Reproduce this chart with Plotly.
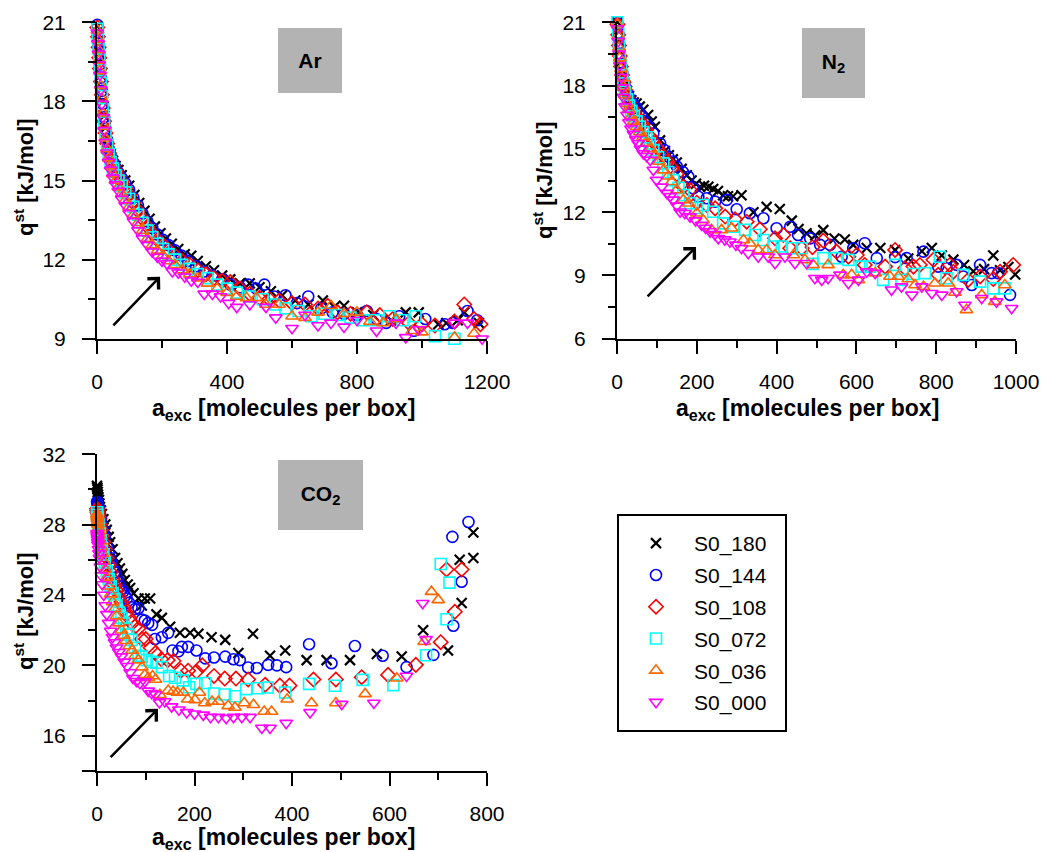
import plotly.graph_objects as go

# ---------------- series definitions ----------------
series_names = ["S0_180", "S0_144", "S0_108", "S0_072", "S0_036", "S0_000"]
series_colors = ["#000000", "#0000ff", "#ff0000", "#00ffff", "#ff6600", "#ff00ff"]
series_symbols = ["x-thin", "circle-open", "diamond-open", "square-open", "triangle-up-open", "triangle-down-open"]

# ---------------- Ar panel ----------------
ar_x_180 = [1,3,5,7,9,12,15,18,22,26,31,36,42,49,57,66,76,87,99,115,130,146,162,178,195,212,230,250,270,290,310,335,360,385,410,440,470,500,535,570,610,650,695,730,760,800,850,905,950,990,1050,1075,1110,1130,1175]
ar_y_180 = [20.85,20.55,20.2,19.85,19.5,19.0,18.5,18.0,17.45,17.0,16.6,16.3,16.0,15.75,15.55,15.4,15.2,15.0,14.8,14.45,14.15,13.85,13.55,13.25,13.0,12.8,12.6,12.4,12.2,12.15,11.95,11.75,11.6,11.4,11.25,11.1,11.1,10.95,10.8,10.65,10.45,10.3,10.45,10.2,10.25,10.0,9.9,9.7,10.0,10.0,9.55,9.6,9.7,10.0,9.6]

ar_x_144 = [1,3,5,7,9,12,15,18,22,26,31,36,42,49,57,66,76,87,99,112,126,140,155,170,186,203,220,240,260,280,305,330,355,385,410,440,465,490,515,545,580,615,650,690,725,760,800,830,860,890,930,975,1010,1070,1095,1140,1170]
ar_y_144 = [20.9,20.6,20.2,19.8,19.4,18.9,18.4,17.9,17.4,16.95,16.55,16.2,15.95,15.7,15.5,15.3,15.1,14.9,14.65,14.35,14.05,13.75,13.45,13.2,12.95,12.75,12.55,12.35,12.15,11.95,11.75,11.55,11.4,11.25,11.05,10.95,11.05,10.9,11.05,10.6,10.65,10.35,10.6,10.15,10.0,9.95,9.9,10.05,9.75,9.6,9.85,9.3,9.75,9.55,9.6,10.05,9.7]

ar_x_108 = [1,3,5,7,9,12,15,18,22,26,31,36,42,49,57,66,76,87,99,112,126,140,155,170,186,203,220,240,262,285,310,335,360,385,410,440,470,500,530,560,600,640,680,710,740,780,830,870,910,960,1000,1040,1100,1130,1160,1180]
ar_y_108 = [20.8,20.45,20.05,19.65,19.25,18.75,18.25,17.75,17.25,16.8,16.4,16.05,15.8,15.55,15.35,15.15,14.95,14.7,14.45,14.15,13.85,13.55,13.25,13.0,12.75,12.55,12.35,12.15,11.95,11.8,11.6,11.45,11.3,11.2,11.15,10.9,10.7,10.55,10.5,10.45,10.35,10.3,10.15,10.25,10.0,9.95,10.0,9.9,9.75,9.6,9.55,9.5,9.65,10.3,9.75,9.55]

ar_x_072 = [1,3,5,7,9,12,15,18,22,26,31,36,42,49,57,66,76,87,99,112,126,140,155,170,186,203,220,240,262,285,310,340,370,400,430,470,510,550,580,620,660,700,740,780,820,860,900,940,980,1040,1100,1180]
ar_y_072 = [20.75,20.4,20.0,19.6,19.2,18.7,18.2,17.7,17.2,16.75,16.35,16.0,15.7,15.45,15.2,15.0,14.8,14.55,14.3,14.0,13.7,13.4,13.1,12.85,12.6,12.4,12.2,12.0,11.8,11.65,11.45,11.3,11.05,10.9,10.75,10.6,10.5,10.3,10.15,10.05,9.85,9.95,9.9,9.8,9.7,9.7,9.85,9.7,9.85,9.1,9.0,8.8]

ar_x_036 = [1,3,5,7,9,12,15,18,22,26,31,36,42,49,57,66,76,87,99,112,126,140,155,170,186,203,220,240,262,285,310,340,370,400,430,460,490,520,560,600,640,680,720,760,800,840,880,920,970,1000,1060,1100,1160,1195]
ar_y_036 = [20.7,20.35,19.95,19.55,19.15,18.6,18.1,17.55,17.05,16.6,16.2,15.85,15.55,15.25,15.0,14.75,14.5,14.25,14.0,13.7,13.4,13.1,12.8,12.55,12.35,12.15,11.95,11.8,11.6,11.45,11.3,11.1,10.9,10.75,10.6,10.55,10.55,10.3,10.3,9.85,9.8,10.0,10.25,9.95,10.0,9.65,9.6,9.75,9.3,9.25,8.9,9.05,9.2,8.85]

ar_x_000 = [1,3,5,7,9,12,15,18,22,26,31,36,42,49,57,66,76,87,99,112,126,140,155,170,186,200,215,232,250,270,290,310,330,355,380,405,430,470,520,550,600,640,680,720,760,800,860,920,950,990,1100,1140,1185]
ar_y_000 = [20.6,20.2,19.8,19.4,19.0,18.45,17.9,17.4,16.9,16.45,16.05,15.7,15.4,15.1,14.85,14.6,14.3,14.05,13.75,13.45,13.1,12.8,12.55,12.3,12.1,11.95,11.85,11.55,11.5,11.35,11.2,11.15,10.7,10.7,10.6,10.35,10.2,10.3,10.2,9.8,9.4,9.9,9.5,9.6,9.45,9.7,9.3,9.6,9.05,9.35,9.6,9.6,9.0]

# ---------------- N2 panel ----------------
n2_x_180 = [1,3,5,7,10,13,16,20,25,30,36,42,49,57,66,78,87,95,108,120,130,140,150,162,175,187,198,208,218,229,241,253,266,278,291,312,342,375,408,438,455,475,497,517,545,571,592,626,660,697,730,764,789,814,843,870,893,920,943,960,981,998]
n2_y_180 = [21.0,20.6,20.1,19.6,19.1,18.7,18.35,18.05,17.75,17.5,17.3,17.2,17.15,17.0,16.85,16.6,16.3,16.05,15.4,14.9,14.7,14.5,14.35,14.05,13.75,13.5,13.35,13.2,13.25,13.2,13.1,13.0,12.8,12.75,12.75,12.8,12.0,12.25,12.15,11.6,11.2,11.0,10.9,11.15,10.75,10.7,10.45,10.3,10.3,10.2,9.8,10.15,10.3,9.95,9.75,9.5,9.2,9.3,9.95,9.25,9.4,9.05]

n2_x_144 = [1,3,5,7,10,13,16,20,25,30,36,42,49,55,62,70,79,91,108,118,129,140,150,165,179,191,204,225,246,275,300,333,367,400,434,454,484,509,534,563,592,621,651,697,726,768,805,826,851,868,889,910,939,955,985]
n2_y_144 = [20.95,20.5,20.0,19.5,19.0,18.6,18.25,17.95,17.65,17.45,17.25,17.1,16.95,16.75,16.52,16.3,16.05,15.73,15.26,14.95,14.63,14.4,14.16,13.9,13.68,13.13,12.73,12.66,12.5,12.58,12.14,11.95,11.71,11.24,11.31,10.92,10.76,10.45,10.45,9.89,10.29,10.53,9.82,9.87,9.82,10.13,9.42,9.34,9.5,8.95,8.55,9.5,9.11,9.11,8.08]

n2_x_108 = [1,3,5,7,10,13,16,20,25,30,36,42,49,56,64,72,82,92,103,114,126,138,150,166,183,200,225,246,271,296,325,358,396,417,434,463,490,517,550,580,601,621,672,697,722,743,759,793,805,834,843,880,910,943,960,993]
n2_y_108 = [20.9,20.4,19.9,19.4,18.9,18.5,18.15,17.8,17.45,17.2,16.95,16.75,16.55,16.35,16.15,15.9,15.6,15.3,15.0,14.7,14.4,14.1,13.8,13.2,13.05,12.45,12.34,12.18,11.79,11.66,11.55,11.19,10.76,10.92,10.29,10.29,10.34,10.65,10.13,9.89,9.97,9.5,9.42,10.21,9.34,9.42,9.5,9.74,9.03,9.5,9.18,8.79,8.95,8.83,9.18,9.5]

n2_x_072 = [1,3,5,7,10,13,16,20,25,30,36,42,49,57,65,74,82,91,103,116,128,141,154,166,183,200,216,241,266,291,321,346,367,392,413,438,463,490,517,550,580,613,634,667,697,713,743,772,809,826,868,910,943,972]
n2_y_072 = [21.0,20.5,19.95,19.45,18.95,18.5,18.1,17.7,17.35,17.05,16.8,16.55,16.3,16.05,15.8,15.55,15.25,14.94,14.6,14.31,13.9,13.52,13.15,12.81,12.42,12.2,12.34,12.02,11.47,11.31,11.16,10.92,10.68,10.37,10.37,10.29,10.29,9.55,9.82,9.82,9.74,9.42,9.42,8.79,9.5,8.79,9.07,9.11,9.89,8.87,9.03,8.71,8.39,8.39]

n2_x_036 = [1,3,5,7,10,13,16,20,25,30,36,42,49,57,65,74,84,95,105,116,128,137,150,166,179,200,216,237,262,287,317,333,354,375,396,442,471,492,529,567,588,605,647,684,705,730,747,768,797,830,847,876,914,947,972]
n2_y_036 = [20.9,20.35,19.8,19.3,18.8,18.35,17.95,17.55,17.15,16.85,16.55,16.3,16.05,15.8,15.55,15.3,15.0,14.7,14.4,13.99,13.7,13.44,13.05,12.58,12.42,11.95,11.63,11.16,11.16,11.24,10.68,10.53,10.21,10.21,9.97,9.97,9.74,9.5,9.5,9.03,9.03,8.79,9.11,8.95,8.95,8.83,8.55,8.47,8.63,8.63,8.19,7.37,8.08,7.76,8.55]

n2_x_000 = [1,3,5,7,10,13,16,20,25,30,35,41,47,53,59,66,74,83,91,99,112,125,133,141,150,158,170,183,197,212,222,233,245,254,270,283,298,312,329,354,379,396,421,446,475,496,513,529,559,580,605,626,647,688,713,739,764,789,814,851,872,914,951,989]
n2_y_000 = [20.7,20.1,19.5,18.95,18.4,17.9,17.45,17.0,16.6,16.25,15.95,15.7,15.45,15.25,15.0,14.78,14.65,14.47,14.0,13.52,13.2,12.9,12.75,12.58,12.3,12.02,11.95,11.79,11.6,11.39,11.25,11.08,10.95,10.76,10.7,10.6,10.45,10.29,10.05,9.89,9.89,9.58,9.89,9.58,9.58,8.87,8.79,8.87,9.03,8.63,8.79,9.18,9.11,8.32,8.47,8.08,8.47,8.16,8.08,8.24,7.6,7.92,7.76,7.45]

# ---------------- CO2 panel ----------------
co2_x_180 = [0,0.5,1,1.5,2,3,4,5,6,8,10,13,17,20,24,27,32,37,42,47,52,57,63,68,75,85,92,98,109,122,133,150,170,191,208,235,263,290,320,355,386,430,471,519,574,625,669,720,748,744,772,772]
co2_y_180 = [30.2,30.1,30.0,29.85,29.7,29.55,29.4,29.2,29.0,28.8,28.6,28.3,28.0,27.7,27.3,27.0,26.6,26.1,25.8,25.5,25.2,24.85,24.6,24.4,24.1,23.8,23.4,23.8,23.8,22.9,22.7,22.2,21.85,21.85,21.8,21.6,21.45,20.7,21.8,20.55,20.85,20.3,20.3,20.3,20.65,20.5,22.0,20.85,23.55,26.0,26.1,27.55]

co2_x_144 = [0,0.5,1,2,3,4,6,8,10,13,16,20,24,27,30,33,36,40,44,47,50,54,58,61,66,71,78,85,92,98,105,113,119,133,146,155,167,174,187,204,222,240,263,280,293,310,328,351,369,388,435,481,529,586,635,690,731,748,729,762]
co2_y_144 = [29.3,29.25,29.2,29.1,29.0,28.85,28.6,28.3,28.0,27.7,27.3,26.8,26.4,26.1,25.8,25.5,25.3,25.0,24.7,24.5,24.3,24.2,23.95,23.8,23.55,23.3,23.2,23.25,22.6,22.55,22.4,22.3,21.5,21.6,21.85,20.85,20.8,21.05,21.05,20.85,20.4,20.45,20.5,20.35,20.3,19.88,19.85,20.03,20.0,19.9,21.2,20.12,21.1,20.55,19.9,20.6,22.25,24.75,27.3,28.15]

co2_x_108 = [0,0.5,1,2,3,4,6,8,10,13,16,20,24,28,32,36,40,45,50,55,60,66,72,78,85,92,100,110,120,132,145,157,172,187,204,216,240,262,285,310,345,375,395,444,490,543,597,654,705,717,734,748]
co2_y_108 = [28.9,28.8,28.7,28.6,28.45,28.3,28.0,27.7,27.35,27.0,26.6,26.1,25.7,25.3,24.9,24.55,24.25,23.9,23.6,23.3,23.0,22.7,22.4,22.2,22.1,21.5,21.5,21.0,20.7,20.35,20.3,20.25,19.7,19.7,19.65,20.0,19.4,19.25,19.25,19.2,18.9,18.85,18.85,19.2,19.2,19.33,19.46,20.03,21.32,25.45,23.05,25.45]

co2_x_072 = [0,0.5,1,2,3,4,6,8,10,13,16,20,24,28,32,36,40,45,50,55,60,64,71,78,85,92,102,112,122,133,148,160,176,189,204,222,240,262,283,306,330,350,386,435,488,545,608,675,705,717,723]
co2_y_072 = [28.7,28.55,28.4,28.2,28.0,27.8,27.5,27.1,26.7,26.3,25.85,25.35,24.9,24.5,24.1,23.75,23.4,23.0,22.7,22.4,22.1,21.75,21.45,21.0,20.55,20.5,20.3,20.2,20.15,19.9,19.4,19.3,19.15,18.76,18.95,19.0,18.4,18.35,18.25,18.65,18.7,18.74,18.46,18.95,18.84,19.18,18.88,20.58,25.76,22.62,24.7]

co2_x_036 = [0,0.3,0.6,1,1.5,2,3,4,5,7,9,11,14,17,20,24,28,32,36,40,45,50,55,60,66,72,78,85,92,98,105,114,120,129,146,156,165,177,186,201,210,221,236,249,269,283,302,321,343,358,390,440,490,550,615,671,686,700]
co2_y_036 = [28.6,28.5,28.4,28.3,28.15,28.0,27.8,27.6,27.4,27.05,26.7,26.35,25.9,25.45,25.0,24.5,24.05,23.6,23.2,22.8,22.4,22.0,21.7,21.4,21.1,20.85,20.55,20.3,19.9,19.46,19.3,19.4,19.2,18.33,18.57,18.52,18.46,18.46,18.08,18.04,18.46,17.86,17.95,17.95,17.7,17.61,17.86,17.76,17.38,17.38,18.08,17.86,17.86,18.38,19.27,21.35,24.19,23.72]

co2_x_000 = [0,0.3,0.6,1,1.5,2,3,4,5,7,9,11,14,17,20,24,28,32,36,40,45,50,56,62,68,74,81,88,98,105,112,120,128,139,153,168,184,200,218,233,249,265,280,297,314,338,355,388,437,502,568,635,668,675]
co2_y_000 = [27.5,27.4,27.3,27.15,27.0,26.85,26.6,26.35,26.1,25.6,25.1,24.6,24.0,23.4,22.9,22.4,21.95,21.6,21.3,21.0,20.75,20.5,20.2,19.95,19.6,19.27,19.1,18.99,19.08,18.55,18.42,18.35,17.89,17.95,17.66,17.48,17.33,17.25,17.19,17.06,17.06,17.0,17.06,17.06,17.06,16.44,16.44,16.72,17.33,17.8,17.86,19.4,23.53,21.48]

ar_data = [(ar_x_180, ar_y_180), (ar_x_144, ar_y_144), (ar_x_108, ar_y_108),
           (ar_x_072, ar_y_072), (ar_x_036, ar_y_036), (ar_x_000, ar_y_000)]
n2_data = [(n2_x_180, n2_y_180), (n2_x_144, n2_y_144), (n2_x_108, n2_y_108),
           (n2_x_072, n2_y_072), (n2_x_036, n2_y_036), (n2_x_000, n2_y_000)]
co2_data = [(co2_x_180, co2_y_180), (co2_x_144, co2_y_144), (co2_x_108, co2_y_108),
            (co2_x_072, co2_y_072), (co2_x_036, co2_y_036), (co2_x_000, co2_y_000)]

W, H = 1048, 852
FONT = "Liberation Sans, Arial, sans-serif"


def dx(a, b):
    return [a / W, b / W]


def dy(top, bottom):
    return [1 - bottom / H, 1 - top / H]


fig = go.Figure()

panels = [("x", "y", ar_data, True), ("x2", "y2", n2_data, False), ("x3", "y3", co2_data, False)]
for xa, ya, data, show in panels:
    for i, (xs, ys) in enumerate(data):
        sym = series_symbols[i]
        col = series_colors[i]
        if sym == "x-thin":
            marker = dict(symbol=sym, size=10, color=col, line=dict(color=col, width=2.2))
        else:
            marker = dict(symbol=sym, size=11, color=col, line=dict(color=col, width=1.6))
        fig.add_trace(go.Scatter(
            x=xs, y=ys, mode="markers", name=series_names[i],
            legendgroup=series_names[i], showlegend=show,
            marker=marker, xaxis=xa, yaxis=ya, cliponaxis=False,
        ))

tickfont = dict(family=FONT, size=21, color="black")
common = dict(showline=True, linecolor="black", linewidth=2, ticks="outside", ticklen=13,
              tickwidth=2, tickcolor="black", showgrid=False, zeroline=False,
              tickfont=tickfont, fixedrange=True, automargin=False)


def minor(dt, t0=0):
    return dict(dtick=dt, tick0=t0, ticks="outside", ticklen=7, tickwidth=2,
                tickcolor="black", showgrid=False)


fig.update_layout(
    width=W, height=H,
    autosize=False,
    margin=dict(l=0, r=0, t=0, b=0, pad=0, autoexpand=False),
    paper_bgcolor="white", plot_bgcolor="white",
    font=dict(family=FONT, color="black"),
    xaxis=dict(domain=dx(97, 487), range=[0, 1200], anchor="y", dtick=400, tick0=0,
               minor=minor(200), ticklabelstandoff=10, **common),
    yaxis=dict(domain=dy(22, 339), range=[8.99, 21.01], anchor="x", dtick=3, tick0=0,
               minor=minor(1.5), ticklabelstandoff=12, **common),
    xaxis2=dict(domain=dx(617, 1016), range=[0, 1000], anchor="y2", dtick=200, tick0=0,
                minor=minor(100), ticklabelstandoff=10, **common),
    yaxis2=dict(domain=dy(22, 339), range=[5.99, 21.01], anchor="x2", dtick=3, tick0=0,
                minor=minor(1.5), ticklabelstandoff=12, **common),
    xaxis3=dict(domain=dx(97, 487), range=[0, 800], anchor="y3", dtick=200, tick0=0,
                minor=minor(100), ticklabelstandoff=10, **common),
    yaxis3=dict(domain=dy(454, 771), range=[14, 32.01], anchor="x3", tickmode="array",
                tickvals=[14, 16, 20, 24, 28, 32], ticktext=["", "16", "20", "24", "28", "32"],
                minor=minor(2, 14), ticklabelstandoff=12, **common),
    legend=dict(x=618 / W, y=1 - 523 / H, xanchor="left", yanchor="top",
                borderwidth=0, bgcolor="rgba(0,0,0,0)",
                font=dict(family=FONT, size=21, color="black"),
                traceorder="grouped", tracegroupgap=1.5, itemwidth=66),
)

# legend frame
fig.add_shape(type="rect", xref="paper", yref="paper",
              x0=618 / W, x1=786 / W, y0=1 - 731 / H, y1=1 - 515 / H,
              line=dict(color="black", width=2), fillcolor="rgba(0,0,0,0)", layer="below")

annotations = []
xtitle_font = dict(family=FONT, size=23, color="black")
ytitle_font = dict(family=FONT, size=22, color="black")
xtitle = "<b>a<sub>exc</sub> [molecules per box]</b>"
ytitle = "<b>q<sup>st</sup> [kJ/mol]</b>"
for cx, cy in [(283, 410), (807, 410), (283, 838)]:
    annotations.append(dict(text=xtitle, x=cx / W, y=1 - cy / H, xref="paper", yref="paper",
                            xanchor="center", yanchor="middle", showarrow=False, font=xtitle_font))
for cx, cy in [(24, 177), (543, 180), (24, 611)]:
    annotations.append(dict(text=ytitle, x=cx / W, y=1 - cy / H, xref="paper", yref="paper",
                            xanchor="center", yanchor="middle", showarrow=False, font=ytitle_font,
                            textangle=-90))

label_font = dict(family=FONT, size=21, color="black")
for txt, cx, cy, w, h in [("<b>Ar</b>", 310, 60.5, 64, 65),
                          ("<b>N<sub>2</sub></b>", 833.5, 63, 63, 70),
                          ("<b>CO<sub>2</sub></b>", 320.5, 495, 85, 70)]:
    annotations.append(dict(text=txt, x=cx / W, y=1 - cy / H, xref="paper", yref="paper",
                            xanchor="center", yanchor="middle", showarrow=False, font=label_font,
                            bgcolor="#b3b3b3", width=w, height=h, borderpad=0, borderwidth=0))

# arrows (head x,y ; tail ax,ay) in data coordinates
for xr, yr, hx, hy, tx, ty in [("x", "y", 194, 11.35, 46, 9.45),
                               ("x2", "y2", 198, 10.35, 73, 7.94),
                               ("x3", "y3", 125, 17.53, 25, 14.7)]:
    annotations.append(dict(text="", x=hx, y=hy, ax=tx, ay=ty, xref=xr, yref=yr,
                            axref=xr, ayref=yr, showarrow=True, arrowhead=4, arrowsize=1.2,
                            arrowwidth=2.5, arrowcolor="black"))

fig.update_layout(annotations=annotations)
fig.write_html("out.html")
